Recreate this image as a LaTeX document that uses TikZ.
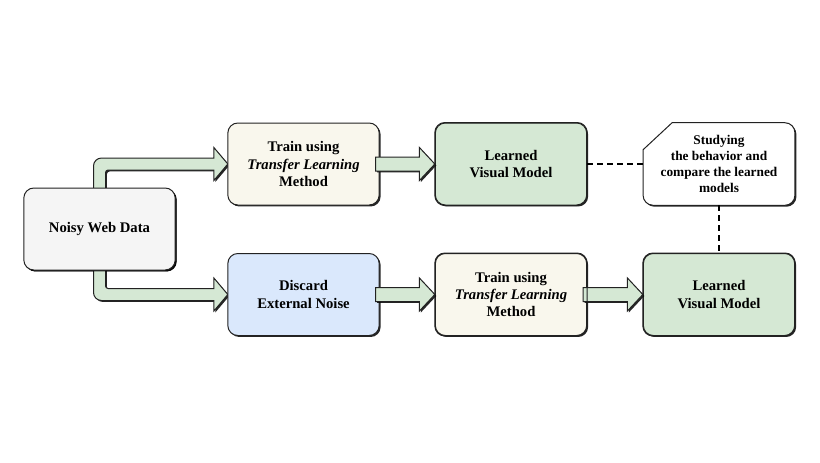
\documentclass[tikz,border=0pt]{standalone}
\usepackage{fontspec}
\setmainfont{Liberation Serif}
\usetikzlibrary{shadows,calc}
\definecolor{grayfill}{HTML}{F5F5F5}
\definecolor{creamfill}{HTML}{F9F7ED}
\definecolor{greenfill}{HTML}{D5E8D4}
\definecolor{bluefill}{HTML}{DAE8FC}
\definecolor{edge}{HTML}{222222}
\begin{document}
\begin{tikzpicture}[x=0.75pt,y=-0.75pt,
  shade/.style={drop shadow={shadow xshift=1.1pt,shadow yshift=-1.1pt,fill=black,opacity=0.85}},
  box/.style={draw=edge,line width=0.75pt,rounded corners=7.5pt,minimum width=113.5pt,minimum height=61.5pt,
    align=center,font=\fontsize{11}{13}\selectfont\bfseries,shade},
  blockarrow/.style={draw=edge,line width=0.75pt,fill=greenfill,line join=miter,shade},
  dashline/.style={draw=black,line width=1pt,dash pattern=on 4.5pt off 3pt}]
\useasboundingbox (0,0) rectangle (820,462);

% nodes (placed first for anchors; fills drawn later cover arrow starts)
\path (99.5,229) node[box,draw=none,fill=none,drop shadow={opacity=0}] (noisyref) {};

% bent arrows from the data box
\draw[blockarrow] let \p1=(noisyref.north), \p2=(303.5,164) in
  (\x1-4.5pt,\y1-4pt) [rounded corners=6pt] -- (\x1-4.5pt,\y2+4.5pt) -- (\x1+20pt,\y2+4.5pt) [sharp corners]
  -- (\x2-113.5pt/2-10.5pt,\y2+4.5pt) -- (\x2-113.5pt/2-10.5pt,\y2+12.4pt) -- (\x2-113.5pt/2,\y2)
  -- (\x2-113.5pt/2-10.5pt,\y2-12.4pt) -- (\x2-113.5pt/2-10.5pt,\y2-4.5pt) -- (\x1+20pt,\y2-4.5pt)
  [rounded corners=2pt] -- (\x1+4.5pt,\y2-4.5pt) -- (\x1+4.5pt,\y2-10pt) [sharp corners] -- (\x1+4.5pt,\y1-4pt) -- cycle;
\draw[blockarrow] let \p1=(noisyref.south), \p2=(303.5,294.5) in
  (\x1+4.5pt,\y1+4pt) -- (\x1+4.5pt,\y2+10pt) [rounded corners=2pt] -- (\x1+4.5pt,\y2+4.5pt) -- (\x1+20pt,\y2+4.5pt) [sharp corners]
  -- (\x2-113.5pt/2-10.5pt,\y2+4.5pt) -- (\x2-113.5pt/2-10.5pt,\y2+12.4pt) -- (\x2-113.5pt/2,\y2)
  -- (\x2-113.5pt/2-10.5pt,\y2-12.4pt) -- (\x2-113.5pt/2-10.5pt,\y2-4.5pt) -- (\x1+20pt,\y2-4.5pt)
  [rounded corners=6pt] -- (\x1-4.5pt,\y2-4.5pt) -- (\x1-4.5pt,\y2+10pt) [sharp corners] -- (\x1-4.5pt,\y1+4pt) -- cycle;

% boxes
\node[box,fill=grayfill] (noisy) at (99.5,229) {Noisy Web Data};
\node[box,fill=creamfill] (train1) at (303.5,164) {Train using\\\textit{Transfer Learning}\\Method};
\node[box,fill=greenfill] (learn1) at (511,164) {Learned\\Visual Model};
\node[box,fill=bluefill] (discard) at (303.5,294.5) {Discard\\External Noise};
\node[box,fill=creamfill] (train2) at (511,294.5) {Train using\\\textit{Transfer Learning}\\Method};
\node[box,fill=greenfill] (learn2) at (719,294.5) {Learned\\Visual Model};

% straight arrows
\foreach \a/\b in {train1/learn1, discard/train2, train2/learn2}{
  \draw[blockarrow] let \p1=(\a.east), \p2=(\b.west) in
    (\x1-3pt,\y1+5.25pt) -- (\x2-11.6pt,\y1+5.25pt) -- (\x2-11.6pt,\y1+12.4pt) -- (\x2,\y1)
    -- (\x2-11.6pt,\y1-12.4pt) -- (\x2-11.6pt,\y1-5.25pt) -- (\x1-3pt,\y1-5.25pt) -- cycle;
}
% redraw box borders over arrow tips
\foreach \n in {learn1,train2,learn2}{
  \draw[edge,line width=0.75pt,rounded corners=7.5pt] (\n.north west) rectangle (\n.south east);
}

% studying note with cut corner
\node[minimum width=113.5pt,minimum height=61.5pt] (studyframe) at (719,164) {};
\draw[draw=edge,line width=0.75pt,fill=white,shade]
  (studyframe.west) -- ($(studyframe.north west)+(0,27)$) -- ($(studyframe.north west)+(29,0)$) -- (studyframe.north)
  [rounded corners=7.5pt] -- (studyframe.north east) -- (studyframe.south east) -- (studyframe.south west) -- cycle;
\node[align=center,font=\fontsize{10}{11.8}\selectfont\bfseries] (study) at (studyframe.center)
  {Studying\\the behavior and\\compare the learned\\models};

% dashed connectors
\draw[dashline] (learn1.east) -- (studyframe.west);
\draw[dashline] (studyframe.south) -- (learn2.north);
\end{tikzpicture}
\end{document}
